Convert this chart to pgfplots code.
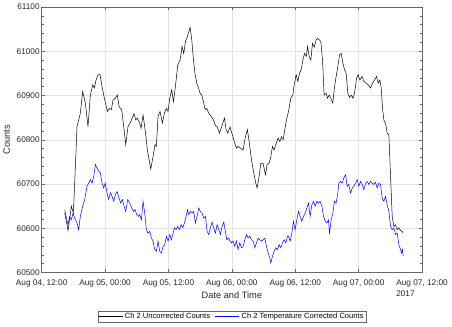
\documentclass[border=0pt]{standalone}
\usepackage{pgfplots}
\pgfplotsset{compat=1.18}
\usepackage{fontspec}
\setmainfont{Liberation Sans}

% hours since Aug 04, 12:00
\pgfplotstableread{
h c
4.36 60635
4.99 60595
5.62 60650
6.00 60635
6.25 60702
6.69 60830
7.32 60860
7.76 60909
8.27 60883
8.77 60830
9.22 60901
9.66 60924
9.98 60917
10.29 60935
10.67 60947
11.05 60947
11.43 60920
11.87 60894
12.44 60864
12.82 60871
13.20 60868
13.51 60890
13.95 60894
14.33 60901
14.65 60875
15.15 60868
15.60 60823
15.91 60789
16.35 60830
16.86 60841
17.49 60859
17.80 60845
18.12 60849
18.56 60838
18.81 60826
19.19 60856
19.58 60823
20.01 60777
20.65 60734
21.08 60762
21.46 60789
21.71 60785
22.03 60853
22.41 60864
22.85 60838
23.23 60860
23.61 60871
23.92 60864
24.24 60894
24.62 60913
24.94 60886
25.31 60920
25.76 60969
26.20 60980
26.58 61011
26.90 60995
27.21 61022
27.47 61029
27.78 61041
28.10 61054
28.41 61026
28.73 60980
29.05 60947
29.36 60928
29.68 60917
30.00 60905
30.30 60901
30.62 60886
30.94 60868
31.25 60871
31.63 60860
32.07 60853
32.51 60845
32.90 60832
33.21 60830
33.65 60815
34.09 60830
34.60 60849
34.91 60823
35.23 60815
35.67 60829
36.10 60811
36.55 60792
36.87 60781
37.18 60785
37.63 60781
38.13 60777
38.57 60807
38.95 60823
39.27 60796
39.71 60755
40.15 60725
40.53 60702
40.78 60691
41.16 60717
41.48 60747
41.92 60746
42.36 60721
42.68 60744
43.06 60747
43.37 60762
43.69 60785
44.00 60777
44.32 60789
44.76 60804
45.08 60796
45.39 60807
45.71 60800
46.02 60823
46.34 60845
46.72 60864
47.16 60894
47.54 60901
47.79 60924
48.17 60947
48.49 60932
48.80 60950
49.12 60958
49.43 60980
49.75 60995
50.07 60988
50.32 61011
50.63 60988
50.95 60980
51.26 61018
51.58 61009
51.96 61026
52.21 61029
52.53 61026
52.84 61022
53.16 60980
53.47 60901
53.85 60905
54.10 60894
54.42 60901
54.73 60894
55.11 60883
55.43 60920
55.74 60943
56.06 60965
56.38 60992
56.69 60995
57.01 60973
57.33 60958
57.64 60950
57.95 60905
58.27 60896
58.59 60901
58.90 60894
59.22 60905
59.60 60939
59.91 60947
60.23 60935
60.67 60943
60.98 60932
61.43 60928
61.80 60924
62.25 60917
62.63 60928
63.01 60935
63.38 60943
63.70 60928
64.02 60935
64.27 60917
64.52 60871
64.77 60845
65.15 60834
65.40 60815
65.72 60811
66.04 60717
66.35 60627
66.67 60604
66.98 60608
67.30 60597
67.61 60601
67.93 60595
68.25 60593
68.43 60589
}\uncorr

\pgfplotstableread{
h c
4.36 60642
4.61 60627
4.99 60608
5.30 60627
5.62 60619
5.93 60634
6.25 60623
6.69 60612
7.00 60597
7.32 60627
7.76 60650
8.14 60665
8.58 60695
8.90 60702
9.22 60710
9.53 60702
9.85 60717
10.17 60744
10.48 60736
10.80 60729
11.11 60725
11.43 60702
11.74 60691
12.06 60702
12.37 60680
12.69 60665
13.01 60680
13.32 60672
13.64 60661
13.95 60676
14.27 60683
14.65 60668
14.96 60657
15.28 60665
15.60 60650
15.91 60638
16.29 60665
16.67 60657
17.05 60646
17.36 60638
17.68 60642
18.00 60631
18.31 60627
18.56 60631
18.88 60619
19.19 60661
19.51 60634
19.82 60597
20.14 60589
20.46 60593
20.77 60578
21.09 60571
21.40 60552
21.72 60548
22.03 60571
22.35 60548
22.66 60544
22.98 60559
23.30 60563
23.61 60582
23.93 60571
24.24 60586
24.56 60574
24.87 60589
25.13 60601
25.44 60597
25.76 60604
26.07 60597
26.39 60608
26.71 60601
27.02 60612
27.34 60627
27.59 60642
27.84 60631
28.16 60638
28.47 60634
28.79 60638
29.10 60612
29.42 60627
29.74 60646
30.05 60638
30.37 60634
30.68 60623
31.00 60627
31.31 60593
31.63 60586
31.94 60601
32.26 60614
32.58 60601
32.89 60589
33.21 60608
33.52 60597
33.84 60586
34.15 60604
34.47 60614
34.78 60593
35.04 60574
35.35 60578
35.67 60571
35.92 60567
36.24 60571
36.55 60559
36.87 60571
37.18 60552
37.50 60567
37.82 60556
38.13 60559
38.45 60574
38.76 60586
39.08 60578
39.39 60582
39.71 60574
40.03 60571
40.34 60556
40.66 60567
40.97 60578
41.29 60574
41.60 60571
41.92 60574
42.24 60578
42.55 60559
42.87 60544
43.18 60533
43.37 60522
43.69 60537
44.00 60548
44.32 60556
44.63 60552
44.95 60563
45.27 60556
45.58 60567
45.90 60574
46.21 60567
46.53 60582
46.72 60582
47.03 60571
47.35 60589
47.66 60616
47.98 60597
48.29 60619
48.61 60638
48.93 60627
49.24 60616
49.56 60627
49.87 60634
50.19 60646
50.51 60657
50.82 60627
51.14 60653
51.45 60661
51.77 60650
52.08 60661
52.40 60657
52.71 60661
53.03 60650
53.35 60627
53.66 60616
53.98 60612
54.29 60619
54.48 60589
54.80 60619
55.11 60634
55.43 60661
55.74 60657
56.06 60680
56.25 60702
56.57 60706
56.88 60702
57.20 60714
57.52 60721
57.83 60695
58.14 60699
58.46 60680
58.78 60691
59.09 60695
59.41 60702
59.72 60710
60.04 60695
60.36 60706
60.67 60699
60.99 60687
61.31 60702
61.62 60706
61.94 60699
62.25 60706
62.57 60702
62.88 60699
63.20 60704
63.51 60691
63.83 60702
64.14 60699
64.46 60668
64.77 60661
65.09 60672
65.40 60653
65.72 60638
66.04 60604
66.35 60597
66.67 60601
66.98 60586
67.30 60589
67.61 60563
67.93 60552
68.12 60544
68.31 60552
68.43 60537
}\corr

\begin{document}
\begin{tikzpicture}
\path (0,0) rectangle (452bp,327bp);
\begin{axis}[
    at={(41bp,54bp)}, anchor=south west,
    scale only axis,
    width=381bp, height=266bp,
    xmin=0, xmax=72,
    ymin=60500, ymax=61100,
    xtick={0,12,24,36,48,60,72},
    xticklabels={{Aug 04, 12:00},{Aug 05, 00:00},{Aug 05, 12:00},{Aug 06, 00:00},{Aug 06, 12:00},{Aug 07, 00:00},{Aug 07, 12:00}},
    ytick={60500,60600,60700,60800,60900,61000,61100},
    minor y tick num=4,
    scaled y ticks=false,
    /pgf/number format/assume math mode=true,
    yticklabel style={/pgf/number format/1000 sep={}, xshift=1.5bp},
    xticklabel style={yshift=-3.5bp},
    tick label style={font=\fontsize{8.3}{9}\selectfont, text=black!85},
    label style={font=\fontsize{9.3}{10}\selectfont, text=black!85},
    xlabel={Date and Time},
    xlabel style={yshift=2bp},
    ylabel={Counts},
    tick align=inside,
    major tick length=3.5bp,
    minor tick length=2bp,
    axis line style={black!60, line width=0.6bp},
    every tick/.style={black!60, line width=0.5bp},
    grid=major,
    major grid style={gray!22, line width=0.5bp},
    legend columns=2,
    legend style={at={(0.5,-0.143)}, anchor=north, draw=black!60, line width=0.5bp,
        font=\fontsize{7.6}{8}\selectfont,
        inner sep=0.5bp, /tikz/every even column/.append style={column sep=3bp}},
    legend image code/.code={\draw[#1, line width=0.6bp] (0bp,0bp) -- (24bp,0bp);},
]
\addplot[draw=black, line width=0.5bp] table[x=h, y=c] {\uncorr};
\addlegendentry{Ch 2 Uncorrected Counts}
\addplot[draw=blue, line width=0.5bp] table[x=h, y=c] {\corr};
\addlegendentry{Ch 2 Temperature Corrected Counts}
\end{axis}
\node[anchor=north west, font=\fontsize{8.3}{9}\selectfont, text=black!85, inner sep=0pt]
    at (current axis.south east) [xshift=-26bp, yshift=-18.5bp] {2017};
\end{tikzpicture}
\end{document}
